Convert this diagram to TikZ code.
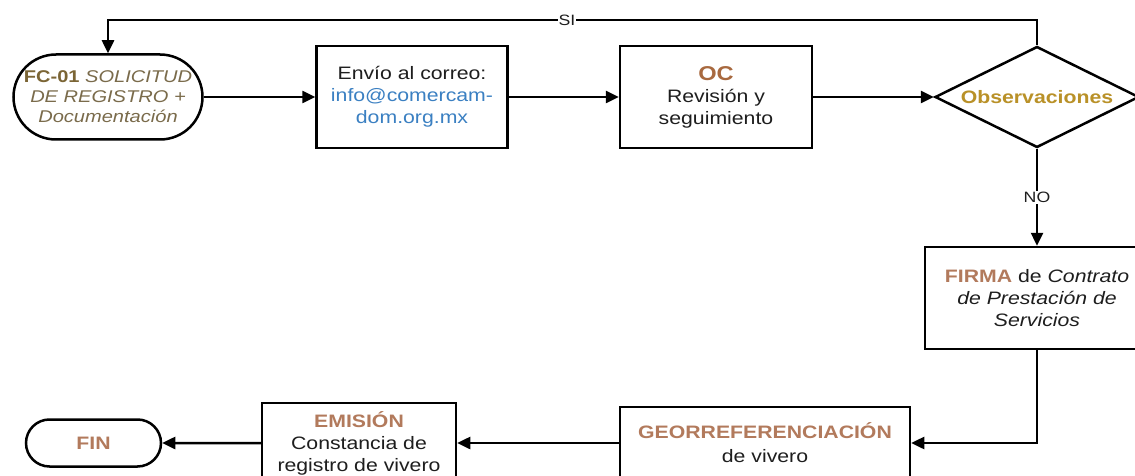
\documentclass[tikz,border=0pt]{standalone}
\usepackage{fontspec}
\setmainfont{Liberation Sans}[FakeStretch=1.18]
\usetikzlibrary{shapes.misc,shapes.geometric,arrows.meta}
\definecolor{cFC}{HTML}{7B6535}
\definecolor{cIt}{HTML}{7A6B4B}
\definecolor{cOC}{HTML}{A8693F}
\definecolor{cObs}{HTML}{B99128}
\definecolor{cBlue}{HTML}{3B80C2}
\definecolor{cBr}{HTML}{B27A5C}
\definecolor{cTxt}{HTML}{1E1E1E}
\tikzset{
  box/.style={draw, rectangle, line width=2.5pt, align=center, inner sep=2pt, text=cTxt},
  term/.style={draw, rounded rectangle, line width=2.5pt, align=center, inner sep=2pt, text=cTxt},
  dec/.style={draw, diamond, aspect=2, line width=2.5pt, inner sep=0pt, align=center},
  arr/.style={line width=2.5pt, -{Triangle[length=13pt,width=12pt]}},
  lbl/.style={fill=white, inner sep=1pt, text=cTxt, font=\fontsize{15}{15}\selectfont}
}
\begin{document}
\begin{tikzpicture}[x=1pt,y=-1pt,font=\fontsize{18}{22}\selectfont]
\useasboundingbox (0,0) rectangle (1135,476);
\clip (0,0) rectangle (1135,476);
\fill[white] (0,0) rectangle (1135,476);
\coordinate (topline) at (0,20);

\node[term, minimum width=193, minimum height=85, font=\fontsize{17}{20}\selectfont] (start) at (108,97)
  {{\bfseries\color{cFC}FC-01} {\itshape\color{cIt}SOLICITUD}\\
   {\itshape\color{cIt}DE REGISTRO +}\\
   {\itshape\color{cIt}Documentación}};
\node[box, minimum width=191, minimum height=102] (env) at (412,97)
  {Envío al correo:\\ {\color{cBlue}info@comercam-}\\ {\color{cBlue}dom.org.mx}};
\node[box, minimum width=192, minimum height=102] (oc) at (716,97)
  {{\bfseries\color{cOC}\fontsize{20}{22}\selectfont OC}\\ Revisión y\\ seguimiento};
\node[dec, minimum width=204, minimum height=101] (obs) at (1037,97)
  {\bfseries\color{cObs}Observaciones};
\node[box, minimum width=224, minimum height=102] (firma) at (1037,298)
  {{\bfseries\color{cBr}FIRMA} de {\itshape Contrato}\\
   {\itshape de Prestación de}\\ {\itshape Servicios}};
\node[box, minimum width=290, minimum height=72] (geo) at (765,443)
  {{\bfseries\color{cBr}GEORREFERENCIACIÓN}\\[2pt] de vivero};
\node[box, minimum width=194, minimum height=80] (emis) at (359,443)
  {{\bfseries\color{cBr}EMISIÓN}\\ Constancia de\\ registro de vivero};
\node[term, minimum width=139, minimum height=47] (fin) at (93.5,443)
  {{\bfseries\color{cBr}FIN}};

\draw[arr] (start.east) -- (start.east -| env.west);
\draw[arr] (env) -- (oc);
\draw[arr] (oc) -- (obs);
\draw[arr] (obs.north) -- (obs.north |- topline) -| node[lbl,pos=0.253]{SI} (start.north);
\draw[arr] (obs) -- node[lbl]{NO} (firma);
\draw[arr] (firma.south) |- (geo.east);
\draw[arr] (geo) -- (emis);
\draw[arr] (emis) -- (fin);
\end{tikzpicture}
\end{document}
